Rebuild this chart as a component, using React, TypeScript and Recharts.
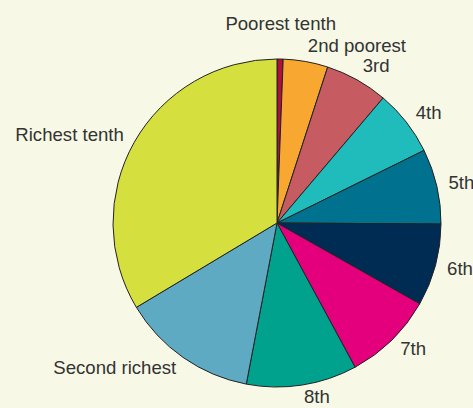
import React from "react";
import { PieChart, Pie, Cell } from "recharts";

// income share by decile (%)
const groups = [
  "Poorest tenth",
  "2nd poorest",
  "3rd",
  "4th",
  "5th",
  "6th",
  "7th",
  "8th",
  "Second richest",
  "Richest tenth",
];
const shares = [0.6, 4.4, 6.2, 6.5, 7.4, 8.1, 8.9, 10.9, 13.4, 33.6];
const colors = [
  "#b0103e",
  "#f8a830",
  "#c65b61",
  "#1fbcbb",
  "#00718e",
  "#002b52",
  "#e4007c",
  "#00a18d",
  "#5faac3",
  "#d5e03f",
];

const data = groups.map((name, i) => ({ name, value: shares[i] }));

const RADIAN = Math.PI / 180;

const renderLabel = (props: any) => {
  const { cx, cy, midAngle, outerRadius, percent, name } = props;
  // tiny slices get pushed further out so they clear their neighbours
  const r = outerRadius + 12 + (percent < 0.02 ? 20 : 0);
  const sx = Math.cos(midAngle * RADIAN);
  const sy = -Math.sin(midAngle * RADIAN);
  const x = cx + r * sx;
  // labels in the top half sit a bit higher
  const y = cy + r * sy + Math.min(sy, 0) * 4;
  const anchor = sx > 0.15 ? "start" : sx < -0.15 ? "end" : "middle";
  return (
    <text
      x={x}
      y={y}
      dy="0.35em"
      textAnchor={anchor}
      fill="#333333"
      fontSize={18.6}
      fontFamily="'Liberation Sans', Arial, sans-serif"
    >
      {name}
    </text>
  );
};

export default function App() {
  return (
    <div
      style={{
        position: "absolute",
        left: 0,
        top: 0,
        width: 473,
        height: 408,
        background: "#f7f9e6",
      }}
    >
      <PieChart width={473} height={408} margin={{ top: 0, right: 0, bottom: 0, left: 0 }}>
        <Pie
          data={data}
          dataKey="value"
          nameKey="name"
          cx={277}
          cy={223}
          innerRadius={0}
          outerRadius={164}
          startAngle={90}
          endAngle={-270}
          stroke="#222222"
          strokeWidth={1}
          label={renderLabel}
          labelLine={false}
          isAnimationActive={false}
        >
          {data.map((d, i) => (
            <Cell key={d.name} fill={colors[i]} />
          ))}
        </Pie>
      </PieChart>
    </div>
  );
}
